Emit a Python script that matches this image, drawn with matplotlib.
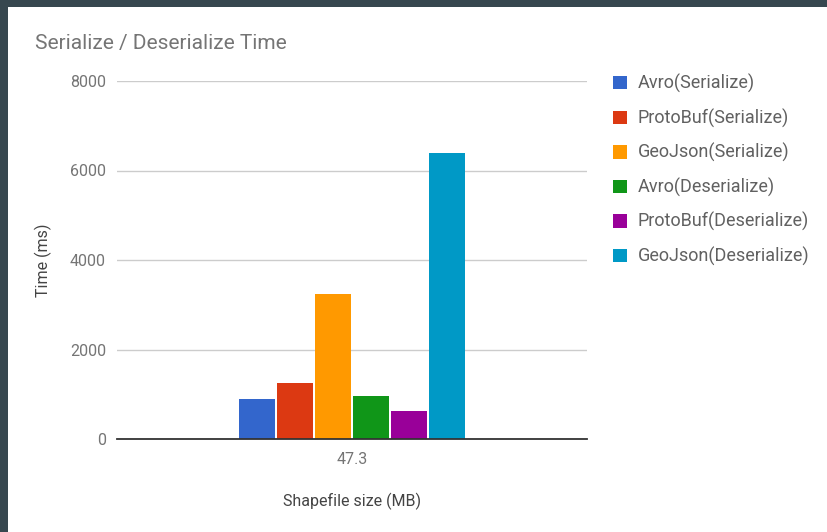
import matplotlib.pyplot as plt
from matplotlib.patches import Rectangle, Patch

plt.rcParams['font.family'] = ['Roboto', 'DejaVu Sans']

categories = ['47.3']
series = ['Avro(Serialize)', 'ProtoBuf(Serialize)', 'GeoJson(Serialize)',
          'Avro(Deserialize)', 'ProtoBuf(Deserialize)', 'GeoJson(Deserialize)']
values = [890, 1260, 3230, 970, 620, 6390]
colors = ['#3366cc', '#dc3912', '#ff9900', '#109618', '#990099', '#0099c6']
yticks = [0, 2000, 4000, 6000, 8000]

fig = plt.figure(figsize=(8.28, 5.32), dpi=100, facecolor='#37474f')
# white card
fig.patches.append(Rectangle((8 / 828, 0), 1, (532 - 7) / 532,
                             transform=fig.transFigure, facecolor='white',
                             edgecolor='none', zorder=-10))

ax = fig.add_axes([117 / 828, 93 / 532, 470 / 828, 358 / 532])
ax.set_facecolor('none')

slot = 38 / 470
width = 36 / 470
n = len(series)
for i, (name, v, c) in enumerate(zip(series, values, colors)):
    x = (i - (n - 1) / 2) * slot
    ax.bar(x, v, width=width, color=c, zorder=3)

ax.set_xlim(-0.5, 0.5)
ax.set_ylim(0, 8000)
ax.set_yticks(yticks)
ax.set_yticklabels([str(t) for t in yticks])
ax.set_xticks([0])
ax.set_xticklabels(categories)
ax.tick_params(axis='both', length=0, labelsize=11.5, labelcolor='#757575')
ax.tick_params(axis='y', pad=8)
ax.tick_params(axis='x', pad=9)
ax.grid(axis='y', color='#cccccc', linewidth=1, zorder=0)
for s in ['top', 'right', 'left']:
    ax.spines[s].set_visible(False)
ax.spines['bottom'].set_color('#333333')
ax.spines['bottom'].set_linewidth(1.3)
ax.spines['bottom'].set_zorder(4)

ax.set_ylabel('Time (ms)', fontsize=11.5, color='#444444', labelpad=13)
ax.set_xlabel('Shapefile size (MB)', fontsize=11.5, color='#444444', labelpad=19)

fig.text(35 / 828, 1 - 43 / 532, 'Serialize / Deserialize Time', fontsize=15,
         color='#757575', va='center', ha='left')

handles = [Patch(facecolor=c, edgecolor='none') for c in colors]
fig.legend(handles, series, loc='upper left',
           bbox_to_anchor=(597 / 828, 1 - 58 / 532), frameon=False,
           fontsize=13, labelcolor='#616161', handlelength=0.75,
           handleheight=0.75, handletextpad=0.6, labelspacing=0.85)

fig.savefig('out.png', dpi=100, facecolor=fig.get_facecolor())
